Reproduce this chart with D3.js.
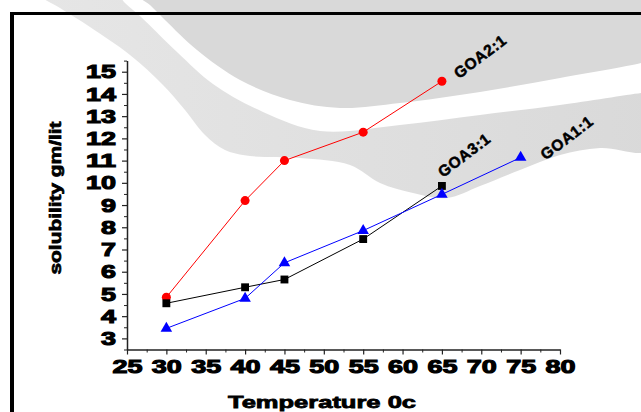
<!DOCTYPE html>
<html>
<head>
<meta charset="utf-8">
<script src="https://cdn.jsdelivr.net/npm/d3@7"></script>
<style>
  body { margin: 0; background: #fff; }
  svg { display: block; }
  text { font-family: "Liberation Sans", Arial, sans-serif; font-weight: bold; fill: #000; }
</style>
</head>
<body>
<svg id="chart" width="641" height="412"></svg>
<script>
// Data
const tempsGOA21 = [30, 40, 45, 55, 65];
const valuesGOA21 = [4.85, 9.2, 11.0, 12.28, 14.57];
const tempsGOA31 = [30, 40, 45, 55, 65];
const valuesGOA31 = [4.58, 5.3, 5.65, 7.47, 9.86];
const tempsGOA11 = [30, 40, 45, 55, 65, 75];
const valuesGOA11 = [3.45, 4.8, 6.4, 7.85, 9.48, 11.14];
const xTicks = [25, 30, 35, 40, 45, 50, 55, 60, 65, 70, 75, 80];
const yTicks = [3, 4, 5, 6, 7, 8, 9, 10, 11, 12, 13, 14, 15];

// Background watermark outlines (decoration, page pixels)
const darkShape = [[138,-5],[150,5],[165,20],[197,50],[240,80],[290,100],[340,108],[400,103],[480,92],[560,78],[641,63],[650,60],[650,-5]];
const lightShape = [[40,-5],[117,-5],[125,3],[140,16],[177,52],[213,84],[263,112],[320,131],[400,125],[480,115],[560,105],[641,93],[650,92],
  [650,150],[600,148],[560,155],[520,170],[480,186],[447,198],[413,193],[380,183],[350,165],[300,158],[250,156],[225,150],[205,135],[185,110],[163,85],[130,55],[90,27],[60,8]];

const svg = d3.select("#chart");

// Watermark background
const defs = svg.append("defs");
const grad = defs.append("linearGradient").attr("id", "band").attr("x1", "0").attr("x2", "1");
grad.append("stop").attr("offset", "0%").attr("stop-color", "#e6e6e6");
grad.append("stop").attr("offset", "100%").attr("stop-color", "#d9d9d9");

const blob = d3.line().curve(d3.curveCatmullRomClosed.alpha(0.5));
svg.append("path").attr("d", blob(darkShape)).attr("fill", "#d9d9d9");
svg.append("path").attr("d", blob(lightShape)).attr("fill", "url(#band)");

// Frame
svg.append("line").attr("x1", 10).attr("x2", 641).attr("y1", 13.5).attr("y2", 13.5)
  .attr("stroke", "#000").attr("stroke-width", 3);
svg.append("line").attr("x1", 12).attr("x2", 12).attr("y1", 12).attr("y2", 412)
  .attr("stroke", "#000").attr("stroke-width", 4);

// Scales
const x = d3.scaleLinear().domain([25, 80]).range([127, 560]);
const y = d3.scaleLinear().domain([2.5, 15.5]).range([349.5, 60.6]);

// Minor ticks
svg.append("g").attr("transform", "translate(0,349.5)")
  .call(d3.axisBottom(x).tickValues(d3.range(27.5, 80, 5)).tickSize(3).tickFormat(""))
  .call(g => g.select(".domain").remove());
svg.append("g").attr("transform", "translate(127,0)")
  .call(d3.axisLeft(y).tickValues(d3.range(2.5, 15.6, 1)).tickSize(3).tickFormat(""))
  .call(g => g.select(".domain").remove());

// Major axes
const styleAxis = g => {
  g.select(".domain").attr("stroke", "#222").attr("stroke-width", 1.5);
  g.selectAll(".tick line").attr("stroke", "#222").attr("stroke-width", 1.2);
  g.selectAll(".tick text")
    .attr("font-size", 19)
    .attr("font-family", "'Liberation Sans', Arial, sans-serif")
    .attr("font-weight", "bold")
    .attr("stroke", "#000").attr("stroke-width", 1.1)
    .attr("textLength", d => String(d).length * 15)
    .attr("lengthAdjust", "spacingAndGlyphs");
};
svg.append("g").attr("transform", "translate(0,349.5)")
  .call(d3.axisBottom(x).tickValues(xTicks).tickSize(5).tickPadding(5).tickSizeOuter(0))
  .call(styleAxis);
svg.append("g").attr("transform", "translate(127,0)")
  .call(d3.axisLeft(y).tickValues(yTicks).tickSize(5).tickPadding(6).tickSizeOuter(0))
  .call(styleAxis);
svg.selectAll(".tick line").attr("stroke", "#222");

// Axis titles
svg.append("text").attr("x", 322).attr("y", 408).attr("text-anchor", "middle")
  .attr("font-size", 17).attr("stroke", "#000").attr("stroke-width", 0.8)
  .attr("textLength", 188).attr("lengthAdjust", "spacingAndGlyphs")
  .text("Temperature 0c");
svg.append("g").attr("transform", "translate(61,198)")
  .append("text").attr("transform", "rotate(-90)").attr("text-anchor", "middle")
  .attr("font-size", 16).attr("stroke", "#000").attr("stroke-width", 0.7)
  .attr("textLength", 153).attr("lengthAdjust", "spacingAndGlyphs")
  .text("solubility gm/lit");

// Series
const series = [
  { name: "GOA2:1", temps: tempsGOA21, values: valuesGOA21, color: "#ff0000", symbol: d3.symbolCircle, size: 64, dx: 17, dy: -2 },
  { name: "GOA3:1", temps: tempsGOA31, values: valuesGOA31, color: "#000000", symbol: d3.symbolSquare, size: 62, dx: 1, dy: -8 },
  { name: "GOA1:1", temps: tempsGOA11, values: valuesGOA11, color: "#0000ff", symbol: d3.symbolTriangle, size: 58, dx: 25, dy: 3 }
];

const line = d3.line().x(d => x(d[0])).y(d => y(d[1]));
const angle = -37;

series.forEach(s => {
  const pts = s.temps.map((t, i) => [t, s.values[i]]);
  svg.append("path").attr("d", line(pts)).attr("fill", "none")
    .attr("stroke", s.color).attr("stroke-width", 1);
  svg.append("g").selectAll("path").data(pts).join("path")
    .attr("transform", d => `translate(${x(d[0])},${y(d[1])})`)
    .attr("d", d3.symbol().type(s.symbol).size(s.size))
    .attr("fill", s.color);

  // series label: glyphs laid out one by one along a slanted baseline
  const last = pts[pts.length - 1];
  const bx = x(last[0]) + s.dx, by = y(last[1]) + s.dy;
  const t = svg.append("text")
    .attr("font-size", 15.5)
    .attr("stroke", "#000").attr("stroke-width", 0.5)
    .text(s.name);
  const node = t.node();
  const ca = Math.cos(angle * Math.PI / 180), sa = Math.sin(angle * Math.PI / 180);
  const xs = [], ys = [], rs = [];
  for (let i = 0; i < s.name.length; i++) {
    const adv = i === 0 ? 0 : node.getSubStringLength(0, i) + i * 0.6;
    xs.push((bx + adv * ca).toFixed(1));
    ys.push((by + adv * sa).toFixed(1));
    rs.push(angle);
  }
  t.attr("x", xs.join(" ")).attr("y", ys.join(" ")).attr("rotate", rs.join(" "));
});
</script>
</body>
</html>
